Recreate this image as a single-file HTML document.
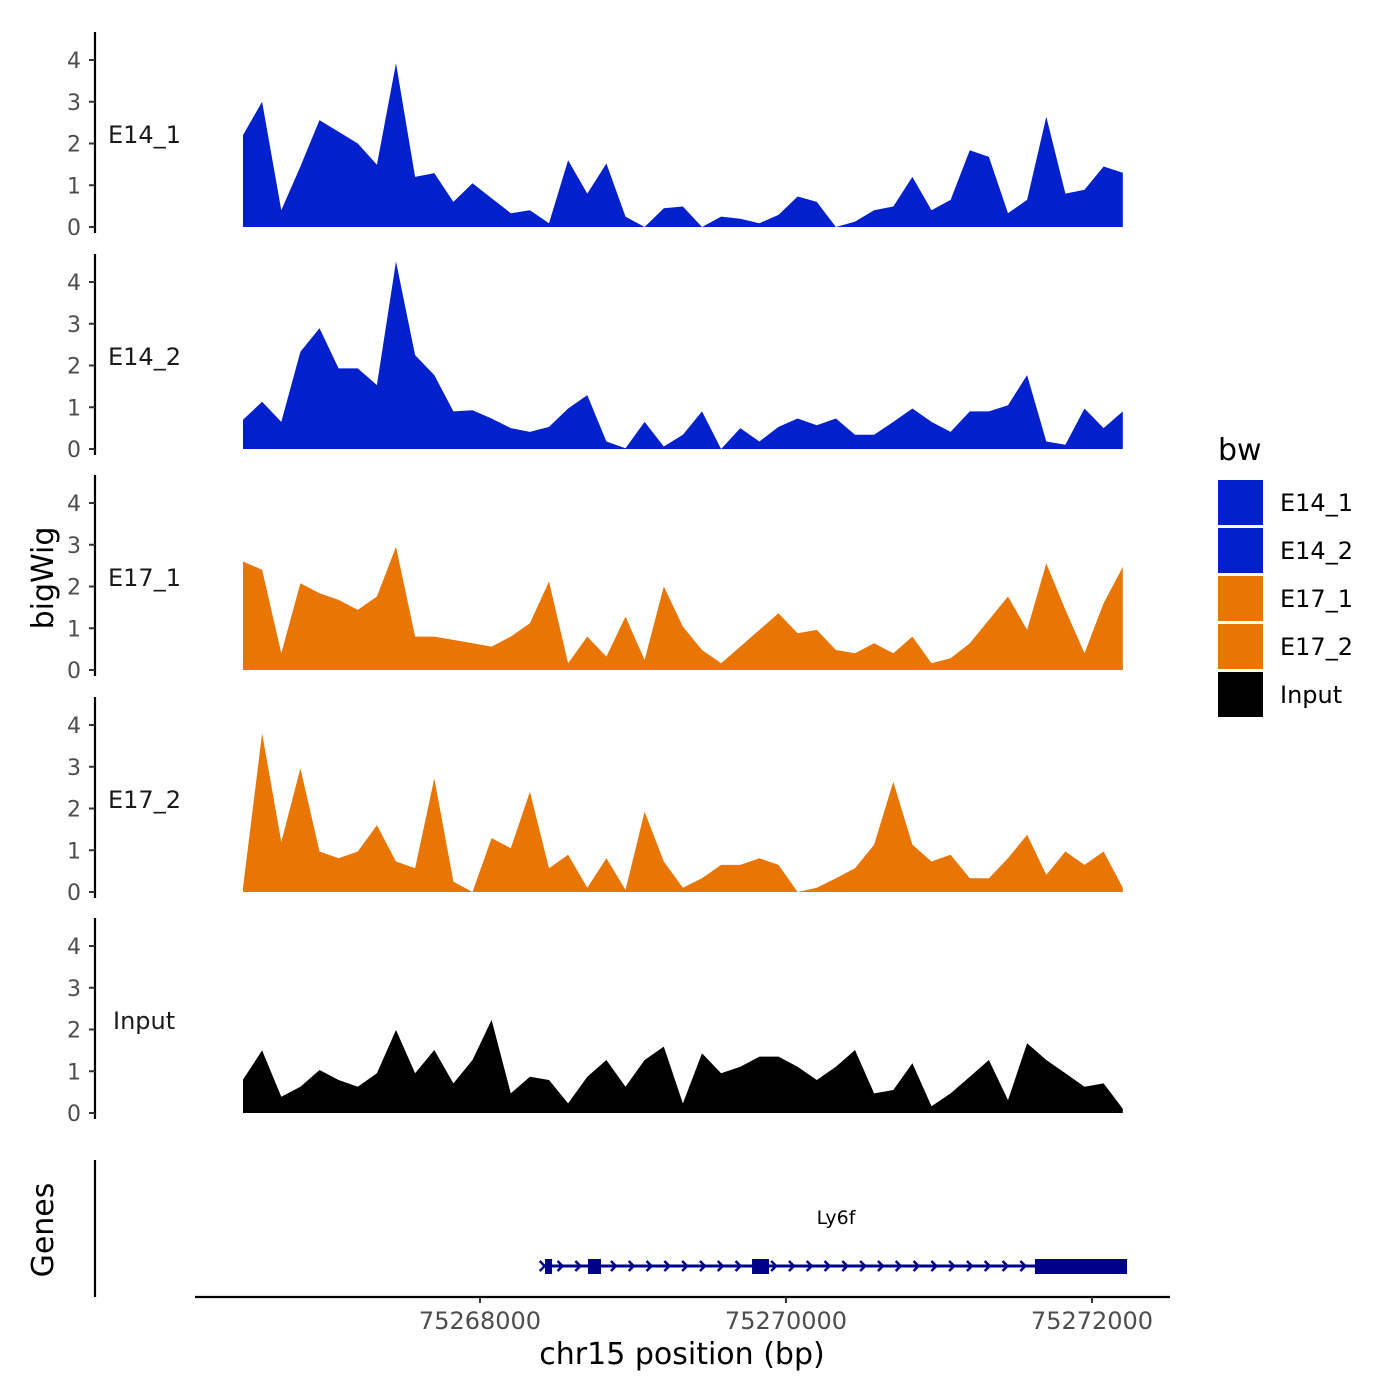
<!DOCTYPE html>
<html><head><meta charset="utf-8"><style>
html,body{margin:0;padding:0;background:#fff;}
svg{display:block;font-family:"DejaVu Sans","Liberation Sans",sans-serif;}
</style></head><body>
<svg id="chart" width="1400" height="1400" viewBox="0 0 1400 1400"></svg>
<script>
const startBp = 75266451;
const stepBp = 125;
const trackNames = ["E14_1","E14_2","E17_1","E17_2","Input"];
const trackColors = ["#0320CD","#0320CD","#E87504","#E87504","#000000"];
const valsE14_1 = [2.2,3.0,0.4,1.45,2.56,2.28,2.0,1.49,3.92,1.2,1.29,0.6,1.05,0.69,0.33,0.4,0.09,1.6,0.8,1.52,0.25,0,0.45,0.49,0,0.25,0.2,0.09,0.29,0.73,0.6,0,0.13,0.4,0.49,1.2,0.4,0.65,1.84,1.68,0.33,0.65,2.64,0.8,0.89,1.45,1.3];
const valsE14_2 = [0.7,1.13,0.65,2.33,2.89,1.93,1.93,1.53,4.49,2.25,1.77,0.9,0.93,0.73,0.5,0.41,0.53,0.97,1.29,0.18,0.02,0.65,0.06,0.34,0.9,0,0.5,0.18,0.53,0.73,0.57,0.73,0.34,0.34,0.65,0.97,0.65,0.41,0.9,0.9,1.05,1.77,0.18,0.1,0.97,0.5,0.9];
const valsE17_1 = [2.6,2.4,0.4,2.08,1.84,1.68,1.44,1.76,2.95,0.8,0.8,0.72,0.64,0.56,0.8,1.12,2.12,0.16,0.8,0.32,1.28,0.24,2.0,1.04,0.48,0.16,0.56,0.96,1.36,0.88,0.96,0.48,0.4,0.64,0.4,0.8,0.16,0.28,0.64,1.2,1.76,0.96,2.55,1.44,0.4,1.6,2.47];
const valsE17_2 = [0.1,3.8,1.2,2.96,0.97,0.81,0.97,1.6,0.73,0.57,2.72,0.25,0,1.29,1.05,2.4,0.57,0.89,0.1,0.81,0.05,1.92,0.73,0.1,0.33,0.65,0.65,0.81,0.65,0,0.1,0.33,0.57,1.13,2.64,1.13,0.73,0.89,0.33,0.33,0.81,1.37,0.41,0.97,0.65,0.97,0.1];
const valsInput = [0.8,1.5,0.39,0.63,1.03,0.79,0.63,0.95,1.99,0.95,1.51,0.71,1.27,2.23,0.47,0.87,0.79,0.23,0.87,1.27,0.63,1.27,1.59,0.23,1.43,0.95,1.11,1.35,1.35,1.11,0.79,1.11,1.51,0.47,0.55,1.19,0.16,0.47,0.87,1.27,0.31,1.67,1.27,0.95,0.63,0.71,0.1];
const yTicks = [0,1,2,3,4];
const xTicks = [75268000,75270000,75272000];
const exonStarts = [75268425,75268706,75269778,75271627];
const exonEnds = [75268471,75268791,75269889,75272229];
const geneStart = 75268410, geneEnd = 75272229;

const allVals = [valsE14_1,valsE14_2,valsE17_1,valsE17_2,valsInput];
const NS="http://www.w3.org/2000/svg";
const svg=document.getElementById('chart');
function mk(tag,attrs,parent){const e=document.createElementNS(NS,tag);for(const k in attrs)e.setAttribute(k,attrs[k]);(parent||svg).appendChild(e);return e;}
const xScale = bp => 480 + (bp-75268000)*0.153;
const panelBase = [227,449,670,892,1113];
const yScale = (p,v) => panelBase[p] - v*41.75;

for(let p=0;p<5;p++){
  const g=mk('g',{});
  
  
  const vals=allVals[p];
  let d='M'+xScale(startBp).toFixed(1)+','+panelBase[p];
  for(let i=0;i<vals.length;i++){
    d+=' L'+xScale(startBp+i*stepBp).toFixed(1)+','+yScale(p,vals[i]).toFixed(1);
  }
  d+=' L'+xScale(startBp+(vals.length-1)*stepBp).toFixed(1)+','+panelBase[p]+' Z';
  const a=mk('path',{d:d,fill:trackColors[p]},g);
  
  
  const ax=mk('line',{x1:95,x2:95,y1:panelBase[p]-195,y2:panelBase[p]+6,stroke:'#000','stroke-width':2.2},g);
  
  
  yTicks.forEach(t=>{
    const y=yScale(p,t);
    const tk=mk('line',{x1:89,x2:95,y1:y,y2:y,stroke:'#333','stroke-width':2},g);
    
    
    const tl=mk('text',{x:81,y:y+8,'text-anchor':'end','font-size':22,fill:'#4d4d4d'},g);
    tl.textContent=t;
    
    
  });
  const lb=mk('text',{x:trackNames[p]==='Input'?113:108,y:panelBase[p]-84,'font-size':24,fill:'#1a1a1a'},g);
  lb.textContent=trackNames[p];
  
  
}

const yt=mk('text',{x:0,y:0,'font-size':30,fill:'#000','text-anchor':'middle',transform:'translate(53,578) rotate(-90)'});
yt.textContent='bigWig';



const gt=mk('text',{x:0,y:0,'font-size':30,fill:'#000','text-anchor':'middle',transform:'translate(53,1230) rotate(-90)'});
gt.textContent='Genes';


const ga=mk('line',{x1:95,x2:95,y1:1160,y2:1297,stroke:'#000','stroke-width':2.2});


const gg=mk('g',{});


const gl=mk('line',{x1:xScale(geneStart),x2:xScale(geneEnd),y1:1266,y2:1266,stroke:'#00008B','stroke-width':3},gg);


for(let x=xScale(geneStart);x<xScale(exonStarts[3])-5;x+=17.8){
  const ch=mk('polyline',{points:`${x-3},1261 ${x+2},1266 ${x-3},1271`,fill:'none',stroke:'#00008B','stroke-width':2.5},gg);
  
  
}
exonStarts.forEach((s,i)=>{
  const r=mk('rect',{x:xScale(s),y:1259,width:xScale(exonEnds[i])-xScale(s),height:15,fill:'#00008B'},gg);
  
  
});
const gn=mk('text',{x:836,y:1224,'font-size':19,'text-anchor':'middle',fill:'#000'},gg);
gn.textContent='Ly6f';



const xa=mk('line',{x1:195,x2:1170,y1:1297,y2:1297,stroke:'#000','stroke-width':2.2});


xTicks.forEach(t=>{
  const x=xScale(t);
  const tk=mk('line',{x1:x,x2:x,y1:1297,y2:1303,stroke:'#333','stroke-width':2});
  
  
  const tl=mk('text',{x:x,y:1329,'font-size':24,'text-anchor':'middle',fill:'#4d4d4d'});
  tl.textContent=t;
  
  
});
const xt=mk('text',{x:682,y:1364,'font-size':30,'text-anchor':'middle',fill:'#000'});
xt.textContent='chr15 position (bp)';



const lg=mk('g',{});


const lt=mk('text',{x:1218,y:460,'font-size':30,fill:'#000'},lg);
lt.textContent='bw';


trackNames.forEach((n,i)=>{
  const y=480+i*48;
  const r=mk('rect',{x:1218,y:y,width:45,height:45,fill:trackColors[i]},lg);
  
  
  const t=mk('text',{x:1280,y:y+31,'font-size':24,fill:'#000'},lg);
  t.textContent=n;
  
  
});
</script>
</body></html>
